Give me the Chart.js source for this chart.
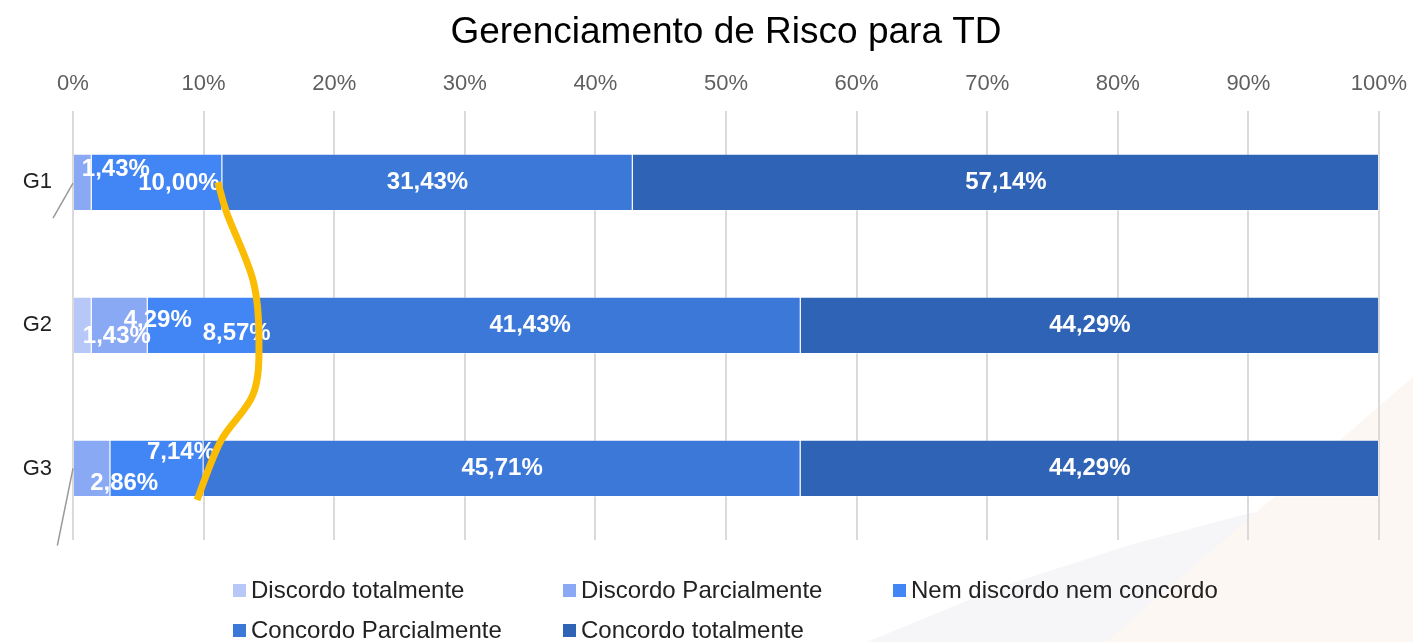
<!DOCTYPE html>
<html>
<head>
<meta charset="utf-8">
<script src="https://cdn.jsdelivr.net/npm/chart.js@4/dist/chart.umd.min.js"></script>
<style>
  body { margin: 0; background: #fff; font-family: "Liberation Sans", Arial, sans-serif; }
  #wrap { position: relative; width: 1413px; height: 642px; overflow: hidden; }
  .fundo { position: absolute; left: 0; top: 0; width: 1413px; height: 642px; }
  #lilas { background: #f6f5f8; clip-path: polygon(867px 642px, 1000px 587px, 1130px 545px, 1250px 513px, 1413px 492px, 1413px 642px); }
  #pessego { background: #fdf7f4; clip-path: polygon(1106px 642px, 1340px 440px, 1413px 377px, 1413px 642px); }
  canvas { position: absolute; left: 0; top: 0; }
  .item { position: absolute; height: 28px; display: flex; align-items: center; font-size: 24px; color: #222; white-space: nowrap; }
  .item span.caixa { width: 13px; height: 13px; margin-right: 5px; display: inline-block; }
</style>
</head>
<body>
<div id="wrap">
  <div class="fundo" id="lilas"></div>
  <div class="fundo" id="pessego"></div>
  <canvas id="grafRisco" width="1413" height="642"></canvas>
  <div id="legenda"></div>
</div>
<script>
// valores (%)
const categorias = ['G1', 'G2', 'G3'];
const discordoTotal = [0, 1.43, 0];
const discordoParcial = [1.43, 4.29, 2.86];
const nemNem = [10.00, 8.57, 7.14];
const concordoParcial = [31.43, 41.43, 45.71];
const concordoTotal = [57.14, 44.29, 44.29];
const rotulosX = ['0%', '10%', '20%', '30%', '40%', '50%', '60%', '70%', '80%', '90%', '100%'];

const series = [
  { label: 'Discordo totalmente', data: discordoTotal, backgroundColor: '#b7c8f8' },
  { label: 'Discordo Parcialmente', data: discordoParcial, backgroundColor: '#8aa9f5' },
  { label: 'Nem discordo nem concordo', data: nemNem, backgroundColor: '#4285f4' },
  { label: 'Concordo Parcialmente', data: concordoParcial, backgroundColor: '#3c78d8' },
  { label: 'Concordo totalmente', data: concordoTotal, backgroundColor: '#2f63b6' }
];

// deslocamento dos rótulos pequenos, em px [dx, dy] (como no original)
const deslocamentos = {
  1: { 0: [33, -13], 1: [38, -5], 2: [32, 15] },
  2: { 0: [22, 1], 1: [33, 8], 2: [24, -16] },
  0: { 1: [34, 11] }
};

const rotulos = {
  id: 'rotulos',
  afterDatasetsDraw(chart) {
    const ctx = chart.ctx;
    ctx.save();
    ctx.font = 'bold 24px "Liberation Sans", Arial, sans-serif';
    ctx.fillStyle = '#fff';
    ctx.textAlign = 'center';
    ctx.textBaseline = 'middle';
    chart.data.datasets.forEach((ds, i) => {
      chart.getDatasetMeta(i).data.forEach((barra, j) => {
        const v = ds.data[j];
        if (!v) return;
        const p = barra.getCenterPoint();
        const d = (deslocamentos[i] && deslocamentos[i][j]) || [0, 0];
        ctx.fillText(v.toFixed(2).replace('.', ',') + '%', p.x + d[0], p.y + d[1]);
      });
    });
    ctx.restore();
  }
};

// traço amarelo e linhas cinza desenhados por cima (anotações do original)
const anotacoes = {
  id: 'anotacoes',
  afterDraw(chart) {
    const x = chart.scales.x, y = chart.scales.y, ctx = chart.ctx;
    const pt = (a, b) => [x.getPixelForValue(a), y.getPixelForValue(0) + b * (y.getPixelForValue(1) - y.getPixelForValue(0))];
    ctx.save();
    ctx.strokeStyle = '#999';
    ctx.lineWidth = 1.5;
    [[[0, 0.005], [-1.53, 0.25]], [[0, 2], [-1.2, 2.54]]].forEach(l => {
      const a = pt(...l[0]), b = pt(...l[1]);
      ctx.beginPath(); ctx.moveTo(a[0], a[1]); ctx.lineTo(b[0], b[1]); ctx.stroke();
    });
    const pts = [[11.1, 0], [11.8, 0.22], [13.8, 0.69], [14.24, 1.1], [13.8, 1.48], [11.3, 1.81], [9.5, 2.22]].map(p => pt(...p));
    ctx.strokeStyle = '#fbbc04';
    ctx.lineWidth = 7;
    ctx.lineCap = 'butt';
    ctx.beginPath();
    ctx.moveTo(pts[0][0], pts[0][1]);
    for (let i = 0; i < pts.length - 1; i++) {
      const p0 = pts[Math.max(i - 1, 0)], p1 = pts[i], p2 = pts[i + 1], p3 = pts[Math.min(i + 2, pts.length - 1)];
      ctx.bezierCurveTo(p1[0] + (p2[0] - p0[0]) / 6, p1[1] + (p2[1] - p0[1]) / 6,
                        p2[0] - (p3[0] - p1[0]) / 6, p2[1] - (p3[1] - p1[1]) / 6, p2[0], p2[1]);
    }
    ctx.stroke();
    ctx.restore();
  }
};

const grafico = new Chart(document.getElementById('grafRisco'), {
  type: 'bar',
  data: {
    labels: categorias,
    datasets: series.map(s => ({ ...s, borderColor: 'rgba(255,255,255,0.35)', borderWidth: 1, barPercentage: 0.5, categoryPercentage: 0.8 }))
  },
  options: {
    indexAxis: 'y',
    responsive: false,
    animation: false,
    layout: { padding: { left: 0, right: 34, top: 0, bottom: 102 } },
    scales: {
      x: {
        position: 'top',
        stacked: true,
        min: 0,
        max: 100,
        border: { display: false },
        grid: { color: '#dadada', lineWidth: 2, drawTicks: false },
        afterFit: s => { s.paddingLeft = 0; s.paddingRight = 0; },
        ticks: {
          stepSize: 10,
          padding: 14,
          color: '#5f5f5f',
          font: { family: '"Liberation Sans", Arial, sans-serif', size: 22 },
          callback: (v, i) => rotulosX[i]
        }
      },
      y: {
        stacked: true,
        border: { display: false },
        grid: { display: false, drawTicks: false },
        afterFit: s => { s.width = 73; },
        ticks: {
          padding: 21,
          color: '#222',
          font: { family: '"Liberation Sans", Arial, sans-serif', size: 22 }
        }
      }
    },
    plugins: {
      legend: { display: false },
      tooltip: { enabled: false },
      title: {
        display: true,
        fullSize: false,
        text: 'Gerenciamento de Risco para TD',
        color: '#000',
        font: { family: '"Liberation Sans", Arial, sans-serif', size: 37, weight: 'normal' },
        padding: { top: 11, bottom: 1 }
      }
    }
  },
  plugins: [rotulos, anotacoes]
});

// legenda em colunas fixas, como no original
const legenda = document.getElementById('legenda');
series.forEach((s, i) => {
  const el = document.createElement('div');
  el.className = 'item';
  el.style.left = (233 + (i % 3) * 330) + 'px';
  el.style.top = (i < 3 ? 576 : 616) + 'px';
  el.innerHTML = '<span class="caixa" style="background:' + s.backgroundColor + '"></span>' + s.label;
  legenda.appendChild(el);
});
</script>
</body>
</html>
